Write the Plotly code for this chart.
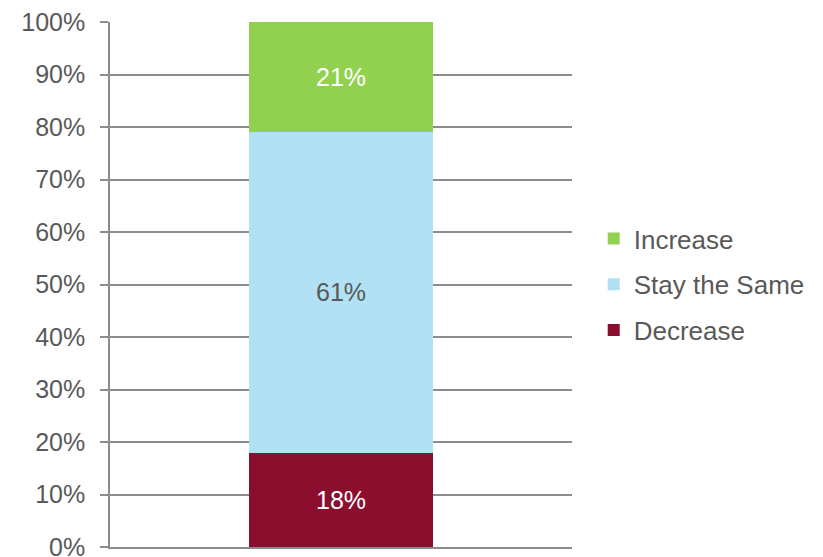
import plotly.graph_objects as go

categories = [""]
series_names = ["Decrease", "Stay the Same", "Increase"]
values = [[18], [61], [21]]
labels = ["18%", "61%", "21%"]
colors = ["#8B0E2F", "#B1E1F3", "#92D050"]
label_colors = ["white", "#595959", "white"]
legend_ranks = [3, 2, 1]
tick_vals = [0, 10, 20, 30, 40, 50, 60, 70, 80, 90, 100]
tick_text = [f"{v}%" for v in tick_vals]

FONT = "Liberation Sans, Arial, sans-serif"

fig = go.Figure()
for name, vals, lab, col, lc, rk in zip(series_names, values, labels, colors, label_colors, legend_ranks):
    fig.add_trace(go.Bar(
        x=categories, y=vals, name=name, legendgroup=name, legendrank=rk,
        marker=dict(color=col, line=dict(width=0)),
        text=[lab], textposition="inside", insidetextanchor="middle",
        textfont=dict(color=lc, size=25, family=FONT),
        width=0.4, hoverinfo="skip",
    ))

fig.update_layout(
    barmode="stack",
    width=823, height=557,
    margin=dict(l=102, r=259, t=14, b=18, autoexpand=False),
    plot_bgcolor="white", paper_bgcolor="white",
    font=dict(family=FONT, size=25, color="#595959"),
    showlegend=True,
    legend=dict(traceorder="grouped", x=1.047, y=0.5, xanchor="left", yanchor="middle",
                font=dict(size=26, color="#595959"), tracegroupgap=9, itemwidth=30,
                bgcolor="rgba(0,0,0,0)"),
    uniformtext=dict(minsize=8),
)
fig.update_yaxes(range=[0, 100], tickvals=tick_vals, ticktext=tick_text,
                 showgrid=True, gridcolor="#8c8c8c", gridwidth=1.5,
                 showline=True, linecolor="#8c8c8c", linewidth=1.5,
                 ticks="outside", ticklen=8, tickcolor="#8c8c8c", tickwidth=1.5,
                 zeroline=False, tickfont=dict(size=25, color="#595959"),
                 ticklabelstandoff=10,
                 automargin=False, ticklabeloverflow="allow")
fig.update_xaxes(showline=True, linecolor="#8c8c8c", linewidth=1.5, showticklabels=False,
                 ticks="", showgrid=False, range=[-0.5, 0.5], automargin=False)

fig.write_html("out.html")
